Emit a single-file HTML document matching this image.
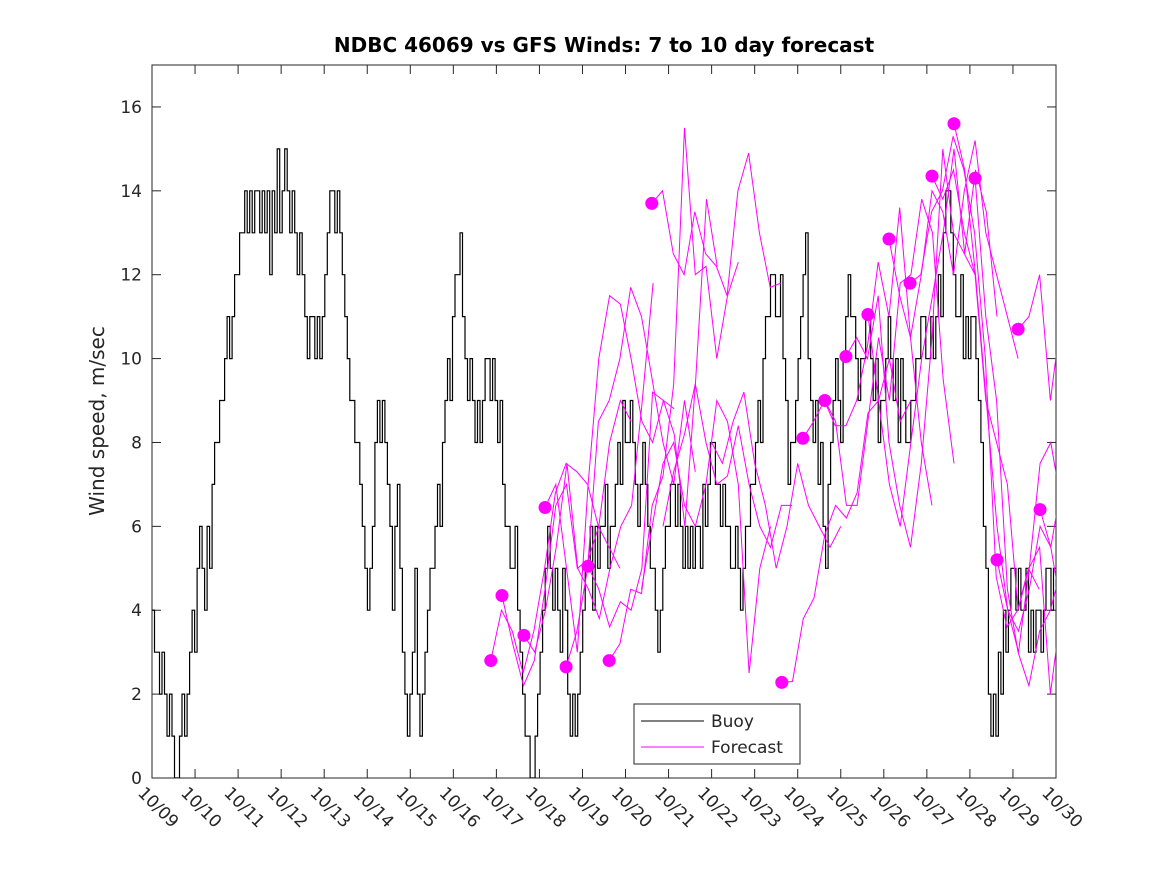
<!DOCTYPE html>
<html><head><meta charset="utf-8"><style>
body{margin:0;background:#fff;}
svg text{font-family:"DejaVu Sans","Liberation Sans",sans-serif;fill:#262626;}
</style></head><body>
<svg id="chart" width="1167" height="875" xmlns="http://www.w3.org/2000/svg">
<rect width="1167" height="875" fill="#fff"/>
<text x="604" y="52" text-anchor="middle" font-size="20" font-weight="bold" style="fill:#000">NDBC 46069 vs GFS Winds: 7 to 10 day forecast</text>
<text transform="translate(104,421) rotate(-90)" text-anchor="middle" font-size="20">Wind speed, m/sec</text>
<defs><clipPath id="clip"><rect x="152" y="65" width="904" height="713"/></clipPath></defs>
<rect x="152" y="65" width="904" height="713" fill="#fff" stroke="#262626" stroke-width="1"/>
<g id="axes"></g>
<g id="marks" clip-path="url(#clip)"></g>
<g id="dots"></g>
<g>
<rect x="634" y="704" width="166" height="60" fill="#fff" stroke="#262626"/>
<line x1="641" y1="721" x2="704" y2="721" stroke="#000"/>
<text x="711" y="727" font-size="17">Buoy</text>
<line x1="641" y1="747" x2="704" y2="747" stroke="#f0f"/>
<text x="711" y="753" font-size="17">Forecast</text>
</g>
</svg>
<script>
const xTickLabels=["10/09","10/10","10/11","10/12","10/13","10/14","10/15","10/16","10/17","10/18","10/19","10/20","10/21","10/22","10/23","10/24","10/25","10/26","10/27","10/28","10/29","10/30"];
const yTicks=[0,2,4,6,8,10,12,14,16];
const buoyValues=[4,3,3,2,3,2,1,2,1,0,0,1,2,1,2,3,4,3,5,6,5,4,6,5,7,8,8,9,9,10,11,10,11,12,12,13,13,14,13,14,13,14,14,13,14,13,14,12,14,13,15,13,14,15,14,13,14,13,12,13,12,11,10,11,11,10,11,10,11,12,13,14,14,13,14,13,12,11,10,9,9,8,8,7,6,5,4,5,6,8,9,8,9,8,7,6,4,6,7,5,3,2,1,2,3,5,2,1,2,3,4,5,5,6,7,6,8,9,10,9,11,12,12,13,11,10,9,10,9,8,9,8,9,10,10,9,10,9,8,9,7,6,6,5,5,6,4,3,2,1,1,0,0,1,2,3,4,5,6,5,4,5,4,3,5,4,2,1,2,1,2,3,4,5,5,6,4,6,5,6,6,7,5,6,6,7,8,7,9,8,8,9,8,7,6,7,8,7,6,5,5,4,3,4,5,6,6,7,7,6,7,6,5,6,5,6,5,6,6,5,7,6,7,8,8,7,7,6,7,6,6,5,5,6,5,4,5,6,6,7,7,8,9,8,10,11,11,12,12,11,11,12,10,9,7,8,8,9,10,11,12,13,10,9,8,9,7,8,6,5,7,8,9,10,9,8,10,11,12,11,11,10,9,10,10,11,11,10,9,10,8,9,9,10,11,10,9,10,8,10,9,8,8,9,9,10,10,11,11,10,10,11,10,11,12,11,13,14,14,13,12,11,11,12,10,11,10,11,11,10,9,8,6,5,2,1,2,1,3,2,4,3,4,5,5,4,5,4,4,5,3,4,3,4,4,3,4,5,5,4,5,5];
const forecastStartDays=[7.87,8.13,8.64,9.13,9.62,10.13,10.62,11.61,11.37,11.87,13.0,14.63,15.12,15.63,16.12,16.63,17.12,17.61,18.12,18.63,19.12,19.63,20.12,20.63];
const forecastHasDot=[1,1,1,1,1,1,1,1,0,0,0,1,1,1,1,1,1,1,1,1,1,1,1,1];
const forecastValues=[
[2.8,4,3.5,2.5,3.5,5,6.8,7.5,7.3,7,6,5.5,5],
[4.35,3.2,2.2,2.8,4.5,6.5,7,5,5.2,6,8,9,8.5],
[3.4,3,4,5.5,7.5,5,4.5,3.8,5,6,6.5,9,11.8],
[6.45,7,5,3,7,10,11.5,11.3,10,8.5,8,9,8.8],
[2.65,3.5,5,8.5,9,10,11.7,11,9.5,8,7,9,7.3],
[5.05,4.5,3.6,4.2,4,5,9.2,9,8.2,6,9.5,13.8,12.2],
[2.8,3.2,4.5,4.4,6.5,7.2,9.4,15.5,12,12.2,10,11.5,12.3],
[13.7,14,12.5,12,13.5,12.5,12.2,11.5,14,14.9,13,11.7,11.8],
[4.5,6,7.5,8,6.5,6,7,9,8.5,7,2.5,5,6],
[6,7.3,8.2,9.4,8,7,7.2,8.4,7,6,5.5,6.5,6.5],
[8,7.5,8.5,9.2,7.5,6.5,5,6,7.5,6.5,6,5.5,6],
[2.28,2.3,3.8,4.3,5.8,6.5,6.2,6.8,8.7,9,10,8.5,9],
[8.1,8.5,9,8.4,8.4,9,10.3,12.3,11,13.6,10.5,8,6.5],
[9,8.5,6.5,6.5,8.5,10.5,9,11.8,12,13.8,13,9.5,7.5],
[10.05,10.5,10,11.5,8,6.5,5.5,7.5,10.5,15,13,12.5,12],
[11.05,9,7,6,8,10,11.5,13,15,12.5,14.5,13.5,11],
[12.85,11.5,10.5,12,14,13.5,12,14,15.2,13,12,11,10],
[11.8,12,13.5,14,15.3,14.5,13,10,4.8,3.6,4,5,4.5],
[14.35,13.8,14.5,13,12,9,8,7,4,5,5.5,2,4],
[15.6,14.5,12,9,6,4,3.5,4.5,6,5.5,4,3.5,4],
[14.3,11,9,4.5,3,2.2,3.5,4,5,4.5,3,2.5,2.6],
[5.2,4,3,5,7.5,8,6.5,5,3,2.5,3,4,4.5],
[10.7,11,12,9,11,10,7.5,13,13,13,13,13,13],
[6.4,5.5,7,6.5,7,7,7,7,7,7,7,7,7]
];
const X0=152,X1=1056,Y0=778,Y1=65,DAYS=21,YMAX=17;
function xs(d){return X0+(X1-X0)*d/DAYS;}
function ys(v){return Y0-(Y0-Y1)*v/YMAX;}
const NS="http://www.w3.org/2000/svg";
function mk(tag,attrs,parent){const e=document.createElementNS(NS,tag);for(const k in attrs)e.setAttribute(k,attrs[k]);parent.appendChild(e);return e;}
const axes=document.getElementById('axes'),marks=document.getElementById('marks'),dots=document.getElementById('dots');
xTickLabels.forEach((lab,i)=>{
  const x=xs(i);
  const t1=mk('line',{x1:x,y1:Y0,x2:x,y2:Y0-9,stroke:'#262626'},axes);
  
  
  const t2=mk('line',{x1:x,y1:Y1,x2:x,y2:Y1+9,stroke:'#262626'},axes);
  
  
  const tx=mk('text',{transform:`translate(${x-15},${Y0+16}) rotate(45)`,'font-size':'17'},axes);
  tx.textContent=lab;
  
  
});
yTicks.forEach(v=>{
  const y=ys(v);
  const t1=mk('line',{x1:X0,y1:y,x2:X0+9,y2:y,stroke:'#262626'},axes);
  
  
  const t2=mk('line',{x1:X1,y1:y,x2:X1-9,y2:y,stroke:'#262626'},axes);
  
  
  const tx=mk('text',{x:X0-10,y:y+6,'text-anchor':'end','font-size':'17'},axes);
  tx.textContent=v;
  
  
});
const dt=DAYS/(buoyValues.length-1);
let pts=[];
buoyValues.forEach((v,i)=>{
  const x=xs(i*dt);
  if(i>0)pts.push(x.toFixed(1)+','+ys(buoyValues[i-1]).toFixed(1));
  pts.push(x.toFixed(1)+','+ys(v).toFixed(1));
});
const bp=mk('polyline',{points:pts.join(' '),fill:'none',stroke:'#000','stroke-width':'1.2'},marks);


forecastValues.forEach((arr,k)=>{
  const s=forecastStartDays[k];
  const pl=mk('polyline',{points:arr.map((v,i)=>xs(s+i*0.25).toFixed(1)+','+ys(v).toFixed(1)).join(' '),fill:'none',stroke:'#f0f','stroke-width':'1'},marks);
  
  
  if(forecastHasDot[k]){
    const c=mk('circle',{cx:xs(s),cy:ys(arr[0]),r:6.5,fill:'#f0f'},dots);
    
    
  }
});
</script>
</body></html>
